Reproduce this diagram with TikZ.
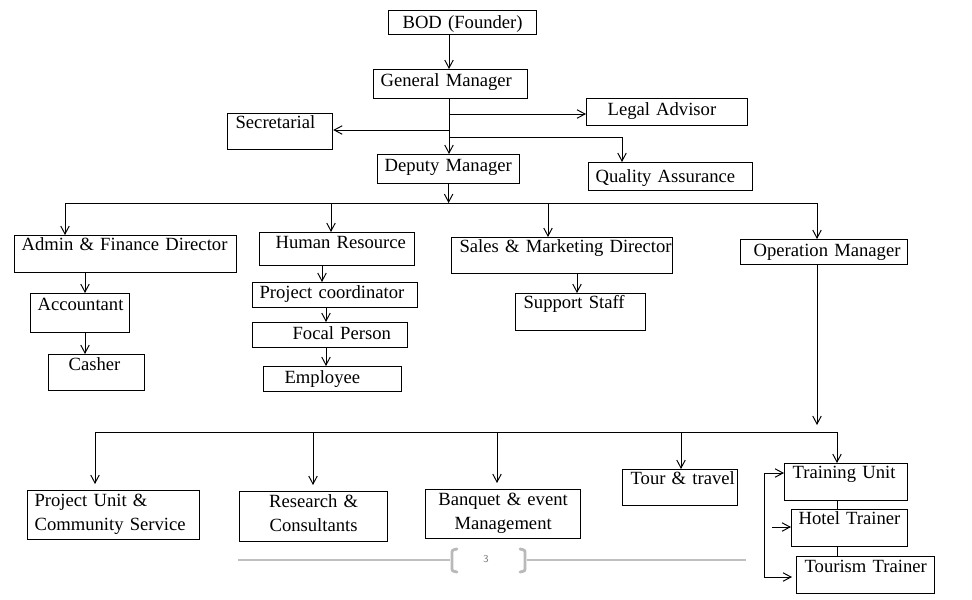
\documentclass[tikz,border=0pt]{standalone}
\usepackage{fontspec}
\setmainfont{Liberation Serif}
\usetikzlibrary{arrows.meta}
\newdimen\pxu
\pxu=0.5692pt
\hyphenpenalty=10000
\exhyphenpenalty=10000
\newcommand\orgfont{\fontsize{10.6}{13.7}\selectfont\spaceskip=0.18em plus 0.1em\relax}

\begin{document}
\begin{tikzpicture}[x=0.5692pt, y=-0.5692pt, line width=0.55pt,
  orgbox/.style={draw, line width=0.7pt, anchor=north west, inner ysep=0pt,
    font=\orgfont},
  sz/.style n args={4}{text width=#1\pxu, inner xsep=#2\pxu, text height=#3\pxu, text depth=#4\pxu},
  lbox/.style={orgbox, align=left},
  cbox/.style={orgbox, align=center},
  arr/.style={-{Straight Barb[length=4.5pt,width=4.8pt]}}]
  \useasboundingbox (0,0) rectangle (972,599);

  % top management
  \node[cbox, sz={140}{4}{18}{6}] (bod) at (388,10) {BOD (Founder)};
  \node[lbox, sz={140}{7}{17}{12}] (gm) at (373,69) {General~Manager};
  \node[lbox, sz={119}{21}{17}{10}] (legal) at (586,98) {Legal~Advisor};
  \node[lbox, sz={89}{8}{15}{21}] (secr) at (227,113) {Secretarial};
  \node[lbox, sz={128}{7}{17}{12}] (dm) at (377,154) {Deputy~Manager};
  \node[lbox, sz={150}{7}{20}{8}] (qa) at (588,162) {Quality~Assurance};

  % directors
  \node[lbox, sz={208}{7}{15}{22}] (admin) at (14,235) {Admin~\&~Finance~Director};
  \node[lbox, sz={123}{16}{16}{17}] (hr) at (259,232) {Human~Resource};
  \node[lbox, sz={205}{8}{15}{21}] (sales) at (451,237) {Sales~\&~Marketing~Director};
  \node[lbox, sz={141}{13}{17}{8}] (om) at (740,239) {Operation~Manager};

  % staff
  \node[lbox, sz={85}{7}{17}{22}] (acc) at (30,293) {Accountant};
  \node[lbox, sz={56}{20}{16}{20}] (cash) at (48,354) {Casher};
  \node[lbox, sz={151}{7}{16}{9}] (pc) at (252,282) {Project~coordinator};
  \node[lbox, sz={75}{40}{17}{8}] (fp) at (252,322) {Focal~Person};
  \node[lbox, sz={96}{21}{17}{8}] (emp) at (263,366) {Employee};
  \node[lbox, sz={114}{8}{15}{22}] (supp) at (515,293) {Support~Staff};

  % operation units
  \node[lbox, sz={158}{7}{16}{33}] (puc) at (27,490) {Project~Unit~\&\\Community~Service};
  \node[cbox, sz={138}{5}{16}{34}] (rc) at (239,491) {Research~\&\\Consultants};
  \node[cbox, sz={145}{5}{16}{33}] (bem) at (425,489) {Banquet~\&~event\\Management};
  \node[lbox, sz={99}{8}{15}{21}] (tour) at (622,469) {Tour~\&~travel};
  \node[lbox, sz={107}{8}{15}{22}] (tu) at (784,463) {Training~Unit};
  \node[lbox, sz={102}{7}{15}{22}] (ht) at (791,509) {Hotel~Trainer};
  \node[lbox, sz={122}{8}{16}{21}] (tt) at (796,556) {Tourism~Trainer};

  % links at the top
  \coordinate (jl) at (449,114);
  \coordinate (js) at (449,130);
  \coordinate (jq) at (449,137);
  \coordinate (jqd) at (622,137);
  \draw[arr] (bod.south -| jl) -- (gm.north -| jl);
  \draw[arr] (gm.south -| jl) -- (dm.north -| jl);
  \draw[arr] (jl) -- (jl -| legal.west);
  \draw[arr] (js) -- (js -| secr.east);
  \draw[arr] (jq) -- (jqd) -- (jqd |- qa.north);

  % first bus
  \coordinate (busa) at (65,203);
  \coordinate (busb) at (817,203);
  \draw[arr] (dm.south) -- (dm.south |- busa);
  \draw (busa) -- (busb);
  \foreach \x/\n in {65/admin, 331/hr, 548/sales, 817/om}
    \draw[arr] (\x,203) -- (\x,0 |- \n.north);

  % under the directors
  \draw[arr] (85,0 |- admin.south) -- (85,0 |- acc.north);
  \draw[arr] (85,0 |- acc.south) -- (85,0 |- cash.north);
  \draw[arr] (322,0 |- hr.south) -- (322,0 |- pc.north);
  \draw[arr] (326,0 |- pc.south) -- (326,0 |- fp.north);
  \draw[arr] (326,0 |- fp.south) -- (326,0 |- emp.north);
  \draw[arr] (577,0 |- sales.south) -- (577,0 |- supp.north);

  % second bus
  \coordinate (busc) at (95,432);
  \coordinate (busd) at (837,432);
  \draw[arr] (817,0 |- om.south) -- (817,425);
  \draw (busc) -- (busd);
  \foreach \x/\n in {95/puc, 313/rc, 497/bem}
    \draw[arr, shorten >=6\pxu] (\x,432) -- (\x,0 |- \n.north);
  \foreach \x/\n in {681/tour, 837/tu}
    \draw[arr] (\x,432) -- (\x,0 |- \n.north);

  % trainers
  \draw (837,0 |- tu.south) -- (837,0 |- ht.north);
  \draw (837,0 |- ht.south) -- (837,0 |- tt.north);
  \coordinate (lt) at (764,473);
  \coordinate (lb) at (764,577);
  \coordinate (lh) at (772,527);
  \draw[arr] (lb) -- (lt) -- (lt -| tu.west);
  \draw[arr, shorten >=4\pxu] (lb) -- (lb -| tt.west);
  \draw[arr] (lh) -- (lh -| ht.west);

  % page footer
  \draw[gray!50, line width=0.8pt] (238,560) -- (450,560);
  \draw[gray!50, line width=0.8pt] (527,560) -- (746,560);
  \draw[gray!55, line width=1.6pt, line cap=round] (457,549) .. controls (452,550) .. (452,554) -- (452,567) .. controls (452,571) .. (457,572);
  \draw[gray!55, line width=1.6pt, line cap=round] (520,549) .. controls (525,550) .. (525,554) -- (525,567) .. controls (525,571) .. (520,572);
  \node[text=gray, font=\sffamily\fontsize{6}{7}\selectfont] (pg) at (486,559) {3};
\end{tikzpicture}
\end{document}
